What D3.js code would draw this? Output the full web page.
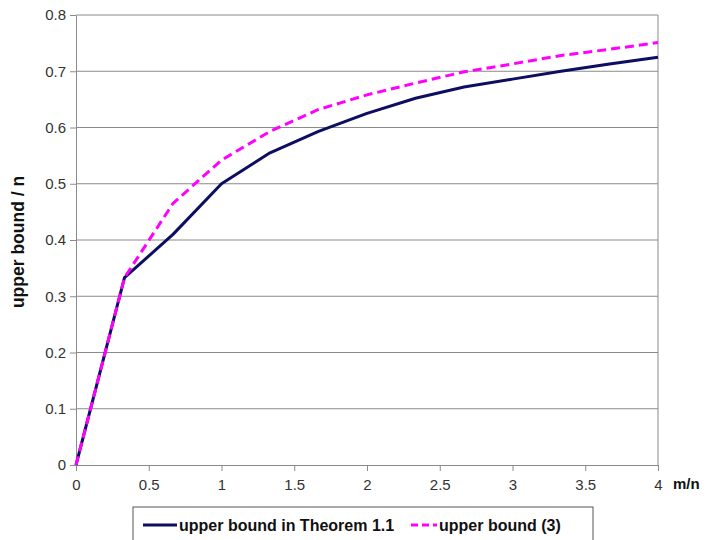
<!DOCTYPE html>
<html>
<head>
<meta charset="utf-8">
<script src="https://cdn.jsdelivr.net/npm/d3@7"></script>
<style>
  body { margin: 0; background: #fff; }
  svg { display: block; font-family: "Liberation Sans", Arial, sans-serif; }
</style>
</head>
<body>
<div id="chart"></div>
<script>
// m/n values (steps of 1/3)
var ratios = [0, 1/3, 2/3, 1, 4/3, 5/3, 2, 7/3, 8/3, 3, 10/3, 11/3, 4];
var theoremBound = [0, 0.333, 0.41, 0.5, 0.555, 0.593, 0.625, 0.652, 0.672, 0.686, 0.70, 0.713, 0.725];
var bound3 = [0, 0.333, 0.465, 0.542, 0.593, 0.632, 0.658, 0.679, 0.699, 0.713, 0.728, 0.739, 0.751];
var xTicks = [0, 0.5, 1, 1.5, 2, 2.5, 3, 3.5, 4];
var yTicks = [0, 0.1, 0.2, 0.3, 0.4, 0.5, 0.6, 0.7, 0.8];
var seriesNames = ["upper bound in Theorem 1.1", "upper bound (3)"];

var W = 709, H = 540;
var margin = { top: 15, right: 51, bottom: 75, left: 76 };
var width = W - margin.left - margin.right,
    height = H - margin.top - margin.bottom;

var svg = d3.select("#chart").append("svg")
  .attr("width", W).attr("height", H);
var g = svg.append("g")
  .attr("transform", "translate(" + margin.left + "," + margin.top + ")");

var x = d3.scaleLinear().domain([0, 4]).range([0, width]);
var y = d3.scaleLinear().domain([0, 0.8]).range([height, 0]);

// gridlines
g.append("g").selectAll("line")
  .data(yTicks.filter(function (d) { return d > 0; }))
  .enter().append("line")
  .attr("x1", 0).attr("x2", width)
  .attr("y1", function (d) { return y(d); })
  .attr("y2", function (d) { return y(d); })
  .attr("stroke", "#8a8a8a").attr("stroke-width", 1);

// right border
g.append("line")
  .attr("x1", width).attr("x2", width)
  .attr("y1", 0).attr("y2", height)
  .attr("stroke", "#8a8a8a");

// axes
var xAxis = g.append("g")
  .attr("transform", "translate(0," + height + ")")
  .call(d3.axisBottom(x).tickValues(xTicks).tickSize(6).tickSizeOuter(0).tickFormat(d3.format("")));
var yAxis = g.append("g")
  .call(d3.axisLeft(y).tickValues(yTicks).tickSize(6).tickSizeOuter(0).tickFormat(function (d) { return d === 0 ? "0" : d3.format(".1f")(d); }));

[xAxis, yAxis].forEach(function (a) {
  a.select(".domain").attr("stroke", "#8a8a8a");
  a.selectAll(".tick line").attr("stroke", "#8a8a8a");
  a.selectAll(".tick text")
    .attr("fill", "#333")
    .style("font-size", "15px")
    .style("font-family", "'Liberation Sans', Arial, sans-serif");
});
xAxis.selectAll(".tick text").attr("dy", "1.05em");
yAxis.selectAll(".tick text").attr("x", -10);

// lines
var line = d3.line()
  .x(function (d, i) { return x(ratios[i]); })
  .y(function (d) { return y(d); });

g.append("path")
  .datum(theoremBound)
  .attr("d", line)
  .attr("fill", "none")
  .attr("stroke", "#0d0d62")
  .attr("stroke-width", 3)
  .attr("stroke-linejoin", "round");

g.append("path")
  .datum(bound3)
  .attr("d", line)
  .attr("fill", "none")
  .attr("stroke", "#ff00ff")
  .attr("stroke-width", 3)
  .attr("stroke-dasharray", "9,5");

// axis titles
svg.append("text")
  .attr("transform", "translate(24," + (margin.top + height / 2 + 2) + ") rotate(-90)")
  .attr("text-anchor", "middle")
  .style("font-size", "17.5px")
  .style("font-weight", "bold")
  .attr("fill", "#111")
  .text("upper bound / n");

svg.append("text")
  .attr("x", 673).attr("y", 489)
  .style("font-size", "15px")
  .style("font-weight", "bold")
  .attr("fill", "#111")
  .text("m/n");

// legend
var legend = svg.append("g");
legend.append("rect")
  .attr("x", 133).attr("y", 507)
  .attr("width", 460).attr("height", 40)
  .attr("fill", "#fff")
  .attr("stroke", "#555");

var legendItems = [
  { name: seriesNames[0], color: "#0d0d62", dash: null, x0: 143, x1: 177 },
  { name: seriesNames[1], color: "#ff00ff", dash: "7,4", x0: 411, x1: 437 }
];
legendItems.forEach(function (d) {
  legend.append("line")
    .attr("x1", d.x0).attr("x2", d.x1)
    .attr("y1", 525).attr("y2", 525)
    .attr("stroke", d.color)
    .attr("stroke-width", 3)
    .attr("stroke-dasharray", d.dash);
  legend.append("text")
    .attr("x", d.x1 + 2).attr("y", 531)
    .style("font-size", "16px")
    .style("font-weight", "bold")
    .attr("fill", "#111")
    .text(d.name);
});
</script>
</body>
</html>
